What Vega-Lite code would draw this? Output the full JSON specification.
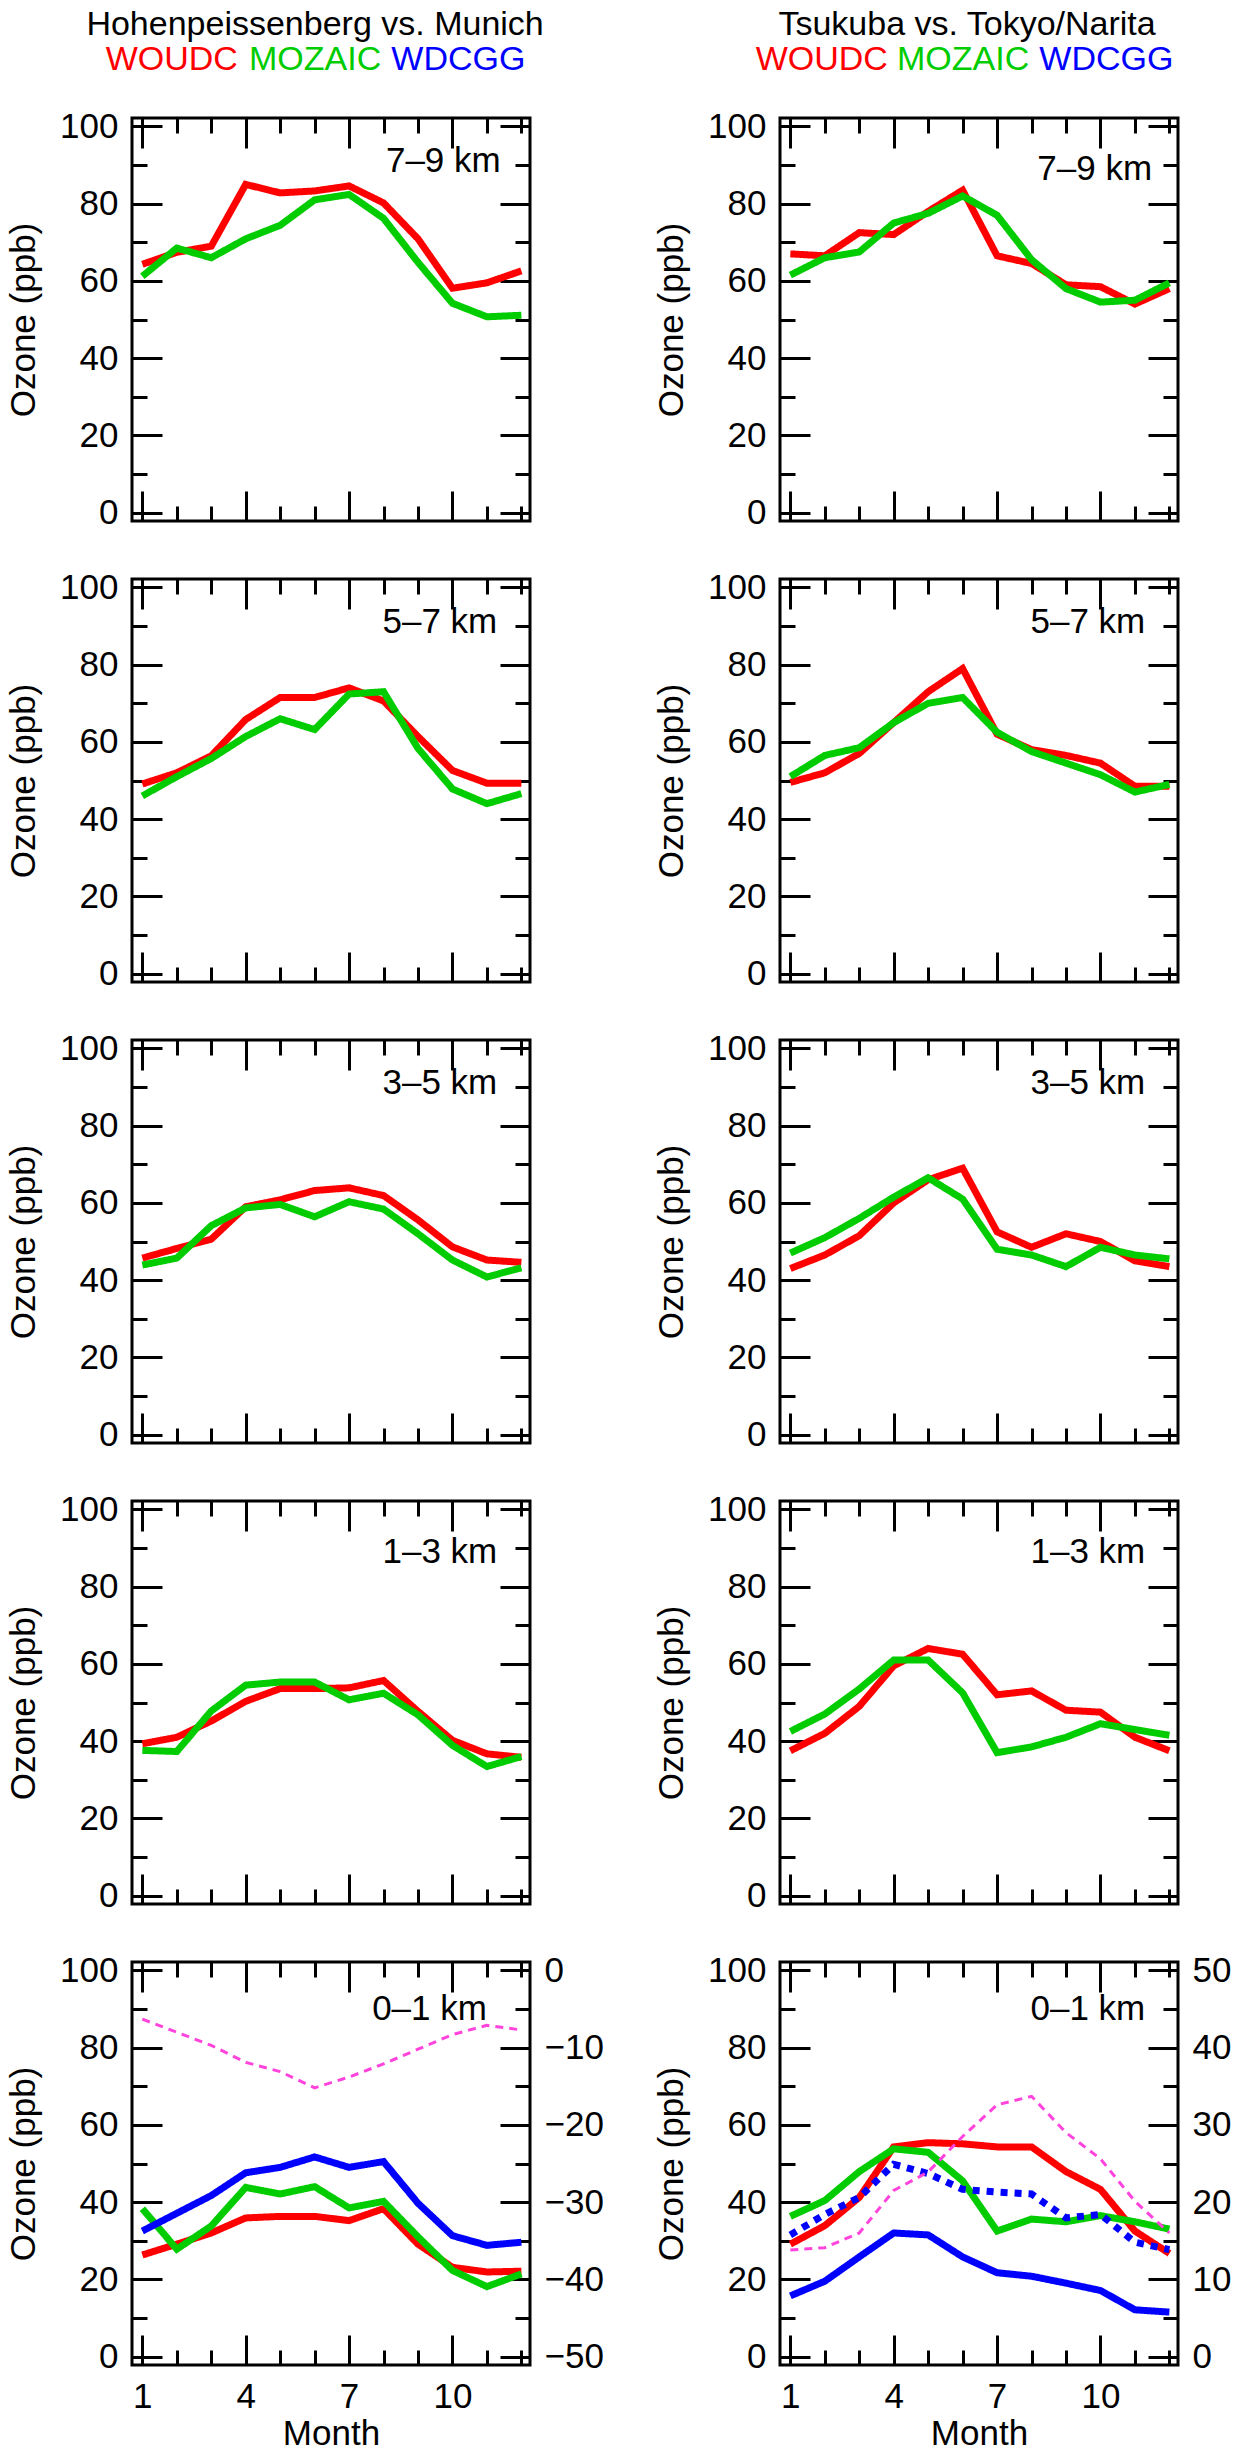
{
  "$schema": "https://vega.github.io/schema/vega-lite/v6.json",
  "background": "white",
  "config": {
    "view": {"stroke": "black", "strokeWidth": 3},
    "font": "Liberation Sans",
    "axis": {"domain": false, "grid": false, "labelFont": "Liberation Sans", "labelFontSize": 35, "labelColor": "black", "titleFont": "Liberation Sans", "titleFontSize": 35, "titleFontWeight": "normal", "titleColor": "black", "tickColor": "black", "tickWidth": 3, "labelPadding": 44},
    "text": {"font": "Liberation Sans", "fontSize": 35, "color": "black"}
  },
  "datasets": {
    "h": [
      {"c": "L", "t": "Hohenpeissenberg vs. Munich", "x": 0.46, "y": 20, "col": "black"},
      {"c": "L", "t": "WOUDC", "x": 0.10, "y": 55, "col": "#ff0000"},
      {"c": "L", "t": "MOZAIC", "x": 0.46, "y": 55, "col": "#00cc00"},
      {"c": "L", "t": "WDCGG", "x": 0.82, "y": 55, "col": "#0000ff"},
      {"c": "R", "t": "Tsukuba vs. Tokyo/Narita", "x": 0.47, "y": 20, "col": "black"},
      {"c": "R", "t": "WOUDC", "x": 0.105, "y": 55, "col": "#ff0000"},
      {"c": "R", "t": "MOZAIC", "x": 0.46, "y": 55, "col": "#00cc00"},
      {"c": "R", "t": "WDCGG", "x": 0.82, "y": 55, "col": "#0000ff"}
    ],
    "d": [
      {"p": "L1", "m": 1, "WOUDC": 64.3, "MOZAIC": 61.2}, {"p": "L1", "m": 2, "WOUDC": 67.4, "MOZAIC": 68.5}, {"p": "L1", "m": 3, "WOUDC": 69, "MOZAIC": 66}, {"p": "L1", "m": 4, "WOUDC": 85, "MOZAIC": 70.9}, {"p": "L1", "m": 5, "WOUDC": 82.8, "MOZAIC": 74.4}, {"p": "L1", "m": 6, "WOUDC": 83.3, "MOZAIC": 81}, {"p": "L1", "m": 7, "WOUDC": 84.6, "MOZAIC": 82.4}, {"p": "L1", "m": 8, "WOUDC": 80.2, "MOZAIC": 76.2}, {"p": "L1", "m": 9, "WOUDC": 70.9, "MOZAIC": 64.8}, {"p": "L1", "m": 10, "WOUDC": 58.1, "MOZAIC": 54.2}, {"p": "L1", "m": 11, "WOUDC": 59.5, "MOZAIC": 50.7}, {"p": "L1", "m": 12, "WOUDC": 62.6, "MOZAIC": 51.1},
      {"p": "R1", "m": 1, "WOUDC": 67, "MOZAIC": 61.5}, {"p": "R1", "m": 2, "WOUDC": 66.5, "MOZAIC": 66}, {"p": "R1", "m": 3, "WOUDC": 72.5, "MOZAIC": 67.5}, {"p": "R1", "m": 4, "WOUDC": 72, "MOZAIC": 75}, {"p": "R1", "m": 5, "WOUDC": 78, "MOZAIC": 77.5}, {"p": "R1", "m": 6, "WOUDC": 83.5, "MOZAIC": 82}, {"p": "R1", "m": 7, "WOUDC": 66.5, "MOZAIC": 77}, {"p": "R1", "m": 8, "WOUDC": 64.5, "MOZAIC": 65.5}, {"p": "R1", "m": 9, "WOUDC": 59, "MOZAIC": 58}, {"p": "R1", "m": 10, "WOUDC": 58.5, "MOZAIC": 54.5}, {"p": "R1", "m": 11, "WOUDC": 54, "MOZAIC": 55}, {"p": "R1", "m": 12, "WOUDC": 58, "MOZAIC": 59.5},
      {"p": "L2", "m": 1, "WOUDC": 49.1, "MOZAIC": 46}, {"p": "L2", "m": 2, "WOUDC": 52, "MOZAIC": 51}, {"p": "L2", "m": 3, "WOUDC": 56.4, "MOZAIC": 55.7}, {"p": "L2", "m": 4, "WOUDC": 65.8, "MOZAIC": 61.4}, {"p": "L2", "m": 5, "WOUDC": 71.5, "MOZAIC": 66}, {"p": "L2", "m": 6, "WOUDC": 71.5, "MOZAIC": 63.2}, {"p": "L2", "m": 7, "WOUDC": 74, "MOZAIC": 72.4}, {"p": "L2", "m": 8, "WOUDC": 70.6, "MOZAIC": 73}, {"p": "L2", "m": 9, "WOUDC": 61.4, "MOZAIC": 58.3}, {"p": "L2", "m": 10, "WOUDC": 52.6, "MOZAIC": 47.8}, {"p": "L2", "m": 11, "WOUDC": 49.3, "MOZAIC": 44}, {"p": "L2", "m": 12, "WOUDC": 49.3, "MOZAIC": 46.6},
      {"p": "R2", "m": 1, "WOUDC": 49.5, "MOZAIC": 51}, {"p": "R2", "m": 2, "WOUDC": 52, "MOZAIC": 56.5}, {"p": "R2", "m": 3, "WOUDC": 57, "MOZAIC": 58.5}, {"p": "R2", "m": 4, "WOUDC": 65, "MOZAIC": 65}, {"p": "R2", "m": 5, "WOUDC": 73, "MOZAIC": 70}, {"p": "R2", "m": 6, "WOUDC": 79, "MOZAIC": 71.5}, {"p": "R2", "m": 7, "WOUDC": 62, "MOZAIC": 62.5}, {"p": "R2", "m": 8, "WOUDC": 58, "MOZAIC": 57.5}, {"p": "R2", "m": 9, "WOUDC": 56.5, "MOZAIC": 54.5}, {"p": "R2", "m": 10, "WOUDC": 54.5, "MOZAIC": 51.5}, {"p": "R2", "m": 11, "WOUDC": 48.5, "MOZAIC": 47}, {"p": "R2", "m": 12, "WOUDC": 48.5, "MOZAIC": 49},
      {"p": "L3", "m": 1, "WOUDC": 45.7, "MOZAIC": 43.9}, {"p": "L3", "m": 2, "WOUDC": 48.2, "MOZAIC": 45.7}, {"p": "L3", "m": 3, "WOUDC": 50.6, "MOZAIC": 54.1}, {"p": "L3", "m": 4, "WOUDC": 59, "MOZAIC": 58.7}, {"p": "L3", "m": 5, "WOUDC": 60.8, "MOZAIC": 59.6}, {"p": "L3", "m": 6, "WOUDC": 63.2, "MOZAIC": 56.4}, {"p": "L3", "m": 7, "WOUDC": 63.9, "MOZAIC": 60.3}, {"p": "L3", "m": 8, "WOUDC": 61.9, "MOZAIC": 58.4}, {"p": "L3", "m": 9, "WOUDC": 55.6, "MOZAIC": 52}, {"p": "L3", "m": 10, "WOUDC": 48.6, "MOZAIC": 45.2}, {"p": "L3", "m": 11, "WOUDC": 45.2, "MOZAIC": 40.8}, {"p": "L3", "m": 12, "WOUDC": 44.6, "MOZAIC": 43.2},
      {"p": "R3", "m": 1, "WOUDC": 43, "MOZAIC": 47}, {"p": "R3", "m": 2, "WOUDC": 46.5, "MOZAIC": 51}, {"p": "R3", "m": 3, "WOUDC": 51.5, "MOZAIC": 56}, {"p": "R3", "m": 4, "WOUDC": 60, "MOZAIC": 61.5}, {"p": "R3", "m": 5, "WOUDC": 66, "MOZAIC": 66.5}, {"p": "R3", "m": 6, "WOUDC": 69, "MOZAIC": 61}, {"p": "R3", "m": 7, "WOUDC": 52.5, "MOZAIC": 48}, {"p": "R3", "m": 8, "WOUDC": 48.5, "MOZAIC": 46.5}, {"p": "R3", "m": 9, "WOUDC": 52, "MOZAIC": 43.5}, {"p": "R3", "m": 10, "WOUDC": 50, "MOZAIC": 48.5}, {"p": "R3", "m": 11, "WOUDC": 45, "MOZAIC": 46.5}, {"p": "R3", "m": 12, "WOUDC": 43.5, "MOZAIC": 45.5},
      {"p": "L4", "m": 1, "WOUDC": 39.3, "MOZAIC": 37.6}, {"p": "L4", "m": 2, "WOUDC": 41, "MOZAIC": 37.3}, {"p": "L4", "m": 3, "WOUDC": 45.2, "MOZAIC": 47.8}, {"p": "L4", "m": 4, "WOUDC": 50.3, "MOZAIC": 54.5}, {"p": "L4", "m": 5, "WOUDC": 53.6, "MOZAIC": 55.3}, {"p": "L4", "m": 6, "WOUDC": 53.6, "MOZAIC": 55.3}, {"p": "L4", "m": 7, "WOUDC": 53.8, "MOZAIC": 50.7}, {"p": "L4", "m": 8, "WOUDC": 55.7, "MOZAIC": 52.4}, {"p": "L4", "m": 9, "WOUDC": 47.7, "MOZAIC": 46.8}, {"p": "L4", "m": 10, "WOUDC": 40.2, "MOZAIC": 38.9}, {"p": "L4", "m": 11, "WOUDC": 36.7, "MOZAIC": 33.4}, {"p": "L4", "m": 12, "WOUDC": 35.8, "MOZAIC": 36},
      {"p": "R4", "m": 1, "WOUDC": 37.5, "MOZAIC": 42.5}, {"p": "R4", "m": 2, "WOUDC": 42, "MOZAIC": 47}, {"p": "R4", "m": 3, "WOUDC": 49, "MOZAIC": 53.5}, {"p": "R4", "m": 4, "WOUDC": 59.5, "MOZAIC": 61}, {"p": "R4", "m": 5, "WOUDC": 64, "MOZAIC": 61}, {"p": "R4", "m": 6, "WOUDC": 62.5, "MOZAIC": 52.5}, {"p": "R4", "m": 7, "WOUDC": 52, "MOZAIC": 37}, {"p": "R4", "m": 8, "WOUDC": 53, "MOZAIC": 38.5}, {"p": "R4", "m": 9, "WOUDC": 48, "MOZAIC": 41}, {"p": "R4", "m": 10, "WOUDC": 47.5, "MOZAIC": 44.5}, {"p": "R4", "m": 11, "WOUDC": 41, "MOZAIC": 43}, {"p": "R4", "m": 12, "WOUDC": 37.5, "MOZAIC": 41.5},
      {"p": "L5", "m": 1, "WOUDC": 26.3, "MOZAIC": 38.3, "WDCGG": 32.5, "diff": -6.3}, {"p": "L5", "m": 2, "WOUDC": 29.1, "MOZAIC": 27.8, "WDCGG": 37.1, "diff": -8}, {"p": "L5", "m": 3, "WOUDC": 32, "MOZAIC": 33.8, "WDCGG": 41.7, "diff": -9.7}, {"p": "L5", "m": 4, "WOUDC": 35.9, "MOZAIC": 43.8, "WDCGG": 47.6, "diff": -11.9}, {"p": "L5", "m": 5, "WOUDC": 36.3, "MOZAIC": 42.1, "WDCGG": 49, "diff": -13.1}, {"p": "L5", "m": 6, "WOUDC": 36.3, "MOZAIC": 44, "WDCGG": 51.7, "diff": -15.2}, {"p": "L5", "m": 7, "WOUDC": 35.2, "MOZAIC": 38.5, "WDCGG": 49, "diff": -13.8}, {"p": "L5", "m": 8, "WOUDC": 38.3, "MOZAIC": 40.2, "WDCGG": 50.5, "diff": -12.1}, {"p": "L5", "m": 9, "WOUDC": 29.1, "MOZAIC": 31, "WDCGG": 39.7, "diff": -10.2}, {"p": "L5", "m": 10, "WOUDC": 23.1, "MOZAIC": 22.3, "WDCGG": 31.3, "diff": -8.3}, {"p": "L5", "m": 11, "WOUDC": 21.9, "MOZAIC": 18.1, "WDCGG": 28.8, "diff": -7.1}, {"p": "L5", "m": 12, "WOUDC": 22.1, "MOZAIC": 21.4, "WDCGG": 29.6, "diff": -7.7},
      {"p": "R5", "m": 1, "WOUDC": 29.1, "MOZAIC": 36.3, "WDCGG": 15.7, "WDCGG_b": 31.5, "diff": 13.8}, {"p": "R5", "m": 2, "WOUDC": 33.9, "MOZAIC": 40.4, "WDCGG": 19.5, "WDCGG_b": 36.8, "diff": 14.1}, {"p": "R5", "m": 3, "WOUDC": 41.2, "MOZAIC": 47.9, "WDCGG": 25.8, "WDCGG_b": 41.2, "diff": 16}, {"p": "R5", "m": 4, "WOUDC": 54.3, "MOZAIC": 53.8, "WDCGG": 32, "WDCGG_b": 49.8, "diff": 21.5}, {"p": "R5", "m": 5, "WOUDC": 55.4, "MOZAIC": 52.9, "WDCGG": 31.5, "WDCGG_b": 47.4, "diff": 23.9}, {"p": "R5", "m": 6, "WOUDC": 55.1, "MOZAIC": 45.5, "WDCGG": 25.8, "WDCGG_b": 43.3, "diff": 28.5}, {"p": "R5", "m": 7, "WOUDC": 54.3, "MOZAIC": 32.5, "WDCGG": 21.7, "WDCGG_b": 42.6, "diff": 32.6}, {"p": "R5", "m": 8, "WOUDC": 54.3, "MOZAIC": 35.6, "WDCGG": 20.8, "WDCGG_b": 42.1, "diff": 33.7}, {"p": "R5", "m": 9, "WOUDC": 47.9, "MOZAIC": 34.9, "WDCGG": 19, "WDCGG_b": 35.9, "diff": 29}, {"p": "R5", "m": 10, "WOUDC": 43.3, "MOZAIC": 36.5, "WDCGG": 17.1, "WDCGG_b": 36.8, "diff": 25.6}, {"p": "R5", "m": 11, "WOUDC": 32.5, "MOZAIC": 34.9, "WDCGG": 12.1, "WDCGG_b": 29.6, "diff": 20.1}, {"p": "R5", "m": 12, "WOUDC": 26.7, "MOZAIC": 33, "WDCGG": 11.5, "WDCGG_b": 27.7, "diff": 16}
    ]
  },
  "spacing": 48,
  "hconcat": [
    {
      "bounds": "flush",
      "spacing": 58,
      "vconcat": [
        {"width": 398, "height": 55, "view": {"stroke": null}, "data": {"name": "h"}, "transform": [{"filter": "datum.c === 'L'"}], "mark": {"type": "text", "fontSize": 34, "baseline": "middle"}, "encoding": {"x": {"field": "x", "type": "quantitative", "scale": {"domain": [0, 1]}, "axis": null}, "y": {"field": "y", "type": "quantitative", "scale": {"domain": [55, 0]}, "axis": null}, "text": {"field": "t"}, "color": {"field": "col", "type": "nominal", "scale": null}}},
        {"width": 398, "height": 403, "data": {"name": "d"}, "transform": [{"filter": "datum.p === 'L1'"}], "resolve": {"axis": {"x": "independent", "y": "independent"}}, "layer": [
          {"transform": [{"fold": ["WOUDC", "MOZAIC", "WDCGG", "WDCGG_b"], "as": ["s", "v"]}, {"filter": "isValid(datum.v)"}], "mark": {"type": "line", "strokeWidth": 7}, "encoding": {"x": {"field": "m", "type": "quantitative", "scale": {"domain": [0.7, 12.25], "nice": false, "zero": false}, "axis": {"orient": "bottom", "values": [1, 4, 7, 10], "tickSize": -30, "labels": false, "title": null}}, "y": {"field": "v", "type": "quantitative", "scale": {"domain": [-2.2, 102.2], "nice": false, "zero": false}, "axis": {"orient": "left", "values": [0, 20, 40, 60, 80, 100], "tickSize": -30, "title": "Ozone (ppb)", "titlePadding": 18}}, "color": {"field": "s", "type": "nominal", "scale": {"domain": ["WOUDC", "MOZAIC", "WDCGG", "WDCGG_b"], "range": ["#ff0000", "#00cc00", "#0000ff", "#0000ff"]}, "legend": null}, "strokeDash": {"field": "s", "type": "nominal", "scale": {"domain": ["WOUDC", "MOZAIC", "WDCGG", "WDCGG_b"], "range": [[1, 0], [1, 0], [1, 0], [7, 7]]}, "legend": null}}},
          {"mark": {"type": "point", "opacity": 0}, "encoding": {"x": {"field": "m", "type": "quantitative", "axis": {"orient": "bottom", "values": [1, 2, 3, 4, 5, 6, 7, 8, 9, 10, 11, 12], "tickSize": -15, "labels": false, "title": null}}, "y": {"field": "m", "type": "quantitative", "axis": {"orient": "left", "values": [10, 30, 50, 70, 90], "tickSize": -15, "labels": false, "title": null}}}},
          {"mark": {"type": "point", "opacity": 0}, "encoding": {"x": {"field": "m", "type": "quantitative", "axis": {"orient": "top", "values": [1, 4, 7, 10], "tickSize": -30, "labels": false, "title": null}}, "y": {"field": "m", "type": "quantitative", "axis": {"orient": "right", "values": [0, 20, 40, 60, 80, 100], "tickSize": -30, "labels": false, "title": null}}}},
          {"mark": {"type": "point", "opacity": 0}, "encoding": {"x": {"field": "m", "type": "quantitative", "axis": {"orient": "top", "values": [1, 2, 3, 4, 5, 6, 7, 8, 9, 10, 11, 12], "tickSize": -15, "labels": false, "title": null}}, "y": {"field": "m", "type": "quantitative", "axis": {"orient": "right", "values": [10, 30, 50, 70, 90], "tickSize": -15, "labels": false, "title": null}}}},
          {"data": {"values": [{"t": "7–9 km"}]}, "mark": {"type": "text", "align": "right", "baseline": "middle"}, "encoding": {"x": {"datum": 11.4, "type": "quantitative", "axis": null}, "y": {"datum": 91, "type": "quantitative", "axis": null}, "text": {"field": "t"}}}
        ]},
        {"width": 398, "height": 403, "data": {"name": "d"}, "transform": [{"filter": "datum.p === 'L2'"}], "resolve": {"axis": {"x": "independent", "y": "independent"}}, "layer": [
          {"transform": [{"fold": ["WOUDC", "MOZAIC", "WDCGG", "WDCGG_b"], "as": ["s", "v"]}, {"filter": "isValid(datum.v)"}], "mark": {"type": "line", "strokeWidth": 7}, "encoding": {"x": {"field": "m", "type": "quantitative", "scale": {"domain": [0.7, 12.25], "nice": false, "zero": false}, "axis": {"orient": "bottom", "values": [1, 4, 7, 10], "tickSize": -30, "labels": false, "title": null}}, "y": {"field": "v", "type": "quantitative", "scale": {"domain": [-2.2, 102.2], "nice": false, "zero": false}, "axis": {"orient": "left", "values": [0, 20, 40, 60, 80, 100], "tickSize": -30, "title": "Ozone (ppb)", "titlePadding": 18}}, "color": {"field": "s", "type": "nominal", "scale": {"domain": ["WOUDC", "MOZAIC", "WDCGG", "WDCGG_b"], "range": ["#ff0000", "#00cc00", "#0000ff", "#0000ff"]}, "legend": null}, "strokeDash": {"field": "s", "type": "nominal", "scale": {"domain": ["WOUDC", "MOZAIC", "WDCGG", "WDCGG_b"], "range": [[1, 0], [1, 0], [1, 0], [7, 7]]}, "legend": null}}},
          {"mark": {"type": "point", "opacity": 0}, "encoding": {"x": {"field": "m", "type": "quantitative", "axis": {"orient": "bottom", "values": [1, 2, 3, 4, 5, 6, 7, 8, 9, 10, 11, 12], "tickSize": -15, "labels": false, "title": null}}, "y": {"field": "m", "type": "quantitative", "axis": {"orient": "left", "values": [10, 30, 50, 70, 90], "tickSize": -15, "labels": false, "title": null}}}},
          {"mark": {"type": "point", "opacity": 0}, "encoding": {"x": {"field": "m", "type": "quantitative", "axis": {"orient": "top", "values": [1, 4, 7, 10], "tickSize": -30, "labels": false, "title": null}}, "y": {"field": "m", "type": "quantitative", "axis": {"orient": "right", "values": [0, 20, 40, 60, 80, 100], "tickSize": -30, "labels": false, "title": null}}}},
          {"mark": {"type": "point", "opacity": 0}, "encoding": {"x": {"field": "m", "type": "quantitative", "axis": {"orient": "top", "values": [1, 2, 3, 4, 5, 6, 7, 8, 9, 10, 11, 12], "tickSize": -15, "labels": false, "title": null}}, "y": {"field": "m", "type": "quantitative", "axis": {"orient": "right", "values": [10, 30, 50, 70, 90], "tickSize": -15, "labels": false, "title": null}}}},
          {"data": {"values": [{"t": "5–7 km"}]}, "mark": {"type": "text", "align": "right", "baseline": "middle"}, "encoding": {"x": {"datum": 11.3, "type": "quantitative", "axis": null}, "y": {"datum": 91, "type": "quantitative", "axis": null}, "text": {"field": "t"}}}
        ]},
        {"width": 398, "height": 403, "data": {"name": "d"}, "transform": [{"filter": "datum.p === 'L3'"}], "resolve": {"axis": {"x": "independent", "y": "independent"}}, "layer": [
          {"transform": [{"fold": ["WOUDC", "MOZAIC", "WDCGG", "WDCGG_b"], "as": ["s", "v"]}, {"filter": "isValid(datum.v)"}], "mark": {"type": "line", "strokeWidth": 7}, "encoding": {"x": {"field": "m", "type": "quantitative", "scale": {"domain": [0.7, 12.25], "nice": false, "zero": false}, "axis": {"orient": "bottom", "values": [1, 4, 7, 10], "tickSize": -30, "labels": false, "title": null}}, "y": {"field": "v", "type": "quantitative", "scale": {"domain": [-2.2, 102.2], "nice": false, "zero": false}, "axis": {"orient": "left", "values": [0, 20, 40, 60, 80, 100], "tickSize": -30, "title": "Ozone (ppb)", "titlePadding": 18}}, "color": {"field": "s", "type": "nominal", "scale": {"domain": ["WOUDC", "MOZAIC", "WDCGG", "WDCGG_b"], "range": ["#ff0000", "#00cc00", "#0000ff", "#0000ff"]}, "legend": null}, "strokeDash": {"field": "s", "type": "nominal", "scale": {"domain": ["WOUDC", "MOZAIC", "WDCGG", "WDCGG_b"], "range": [[1, 0], [1, 0], [1, 0], [7, 7]]}, "legend": null}}},
          {"mark": {"type": "point", "opacity": 0}, "encoding": {"x": {"field": "m", "type": "quantitative", "axis": {"orient": "bottom", "values": [1, 2, 3, 4, 5, 6, 7, 8, 9, 10, 11, 12], "tickSize": -15, "labels": false, "title": null}}, "y": {"field": "m", "type": "quantitative", "axis": {"orient": "left", "values": [10, 30, 50, 70, 90], "tickSize": -15, "labels": false, "title": null}}}},
          {"mark": {"type": "point", "opacity": 0}, "encoding": {"x": {"field": "m", "type": "quantitative", "axis": {"orient": "top", "values": [1, 4, 7, 10], "tickSize": -30, "labels": false, "title": null}}, "y": {"field": "m", "type": "quantitative", "axis": {"orient": "right", "values": [0, 20, 40, 60, 80, 100], "tickSize": -30, "labels": false, "title": null}}}},
          {"mark": {"type": "point", "opacity": 0}, "encoding": {"x": {"field": "m", "type": "quantitative", "axis": {"orient": "top", "values": [1, 2, 3, 4, 5, 6, 7, 8, 9, 10, 11, 12], "tickSize": -15, "labels": false, "title": null}}, "y": {"field": "m", "type": "quantitative", "axis": {"orient": "right", "values": [10, 30, 50, 70, 90], "tickSize": -15, "labels": false, "title": null}}}},
          {"data": {"values": [{"t": "3–5 km"}]}, "mark": {"type": "text", "align": "right", "baseline": "middle"}, "encoding": {"x": {"datum": 11.3, "type": "quantitative", "axis": null}, "y": {"datum": 91, "type": "quantitative", "axis": null}, "text": {"field": "t"}}}
        ]},
        {"width": 398, "height": 403, "data": {"name": "d"}, "transform": [{"filter": "datum.p === 'L4'"}], "resolve": {"axis": {"x": "independent", "y": "independent"}}, "layer": [
          {"transform": [{"fold": ["WOUDC", "MOZAIC", "WDCGG", "WDCGG_b"], "as": ["s", "v"]}, {"filter": "isValid(datum.v)"}], "mark": {"type": "line", "strokeWidth": 7}, "encoding": {"x": {"field": "m", "type": "quantitative", "scale": {"domain": [0.7, 12.25], "nice": false, "zero": false}, "axis": {"orient": "bottom", "values": [1, 4, 7, 10], "tickSize": -30, "labels": false, "title": null}}, "y": {"field": "v", "type": "quantitative", "scale": {"domain": [-2.2, 102.2], "nice": false, "zero": false}, "axis": {"orient": "left", "values": [0, 20, 40, 60, 80, 100], "tickSize": -30, "title": "Ozone (ppb)", "titlePadding": 18}}, "color": {"field": "s", "type": "nominal", "scale": {"domain": ["WOUDC", "MOZAIC", "WDCGG", "WDCGG_b"], "range": ["#ff0000", "#00cc00", "#0000ff", "#0000ff"]}, "legend": null}, "strokeDash": {"field": "s", "type": "nominal", "scale": {"domain": ["WOUDC", "MOZAIC", "WDCGG", "WDCGG_b"], "range": [[1, 0], [1, 0], [1, 0], [7, 7]]}, "legend": null}}},
          {"mark": {"type": "point", "opacity": 0}, "encoding": {"x": {"field": "m", "type": "quantitative", "axis": {"orient": "bottom", "values": [1, 2, 3, 4, 5, 6, 7, 8, 9, 10, 11, 12], "tickSize": -15, "labels": false, "title": null}}, "y": {"field": "m", "type": "quantitative", "axis": {"orient": "left", "values": [10, 30, 50, 70, 90], "tickSize": -15, "labels": false, "title": null}}}},
          {"mark": {"type": "point", "opacity": 0}, "encoding": {"x": {"field": "m", "type": "quantitative", "axis": {"orient": "top", "values": [1, 4, 7, 10], "tickSize": -30, "labels": false, "title": null}}, "y": {"field": "m", "type": "quantitative", "axis": {"orient": "right", "values": [0, 20, 40, 60, 80, 100], "tickSize": -30, "labels": false, "title": null}}}},
          {"mark": {"type": "point", "opacity": 0}, "encoding": {"x": {"field": "m", "type": "quantitative", "axis": {"orient": "top", "values": [1, 2, 3, 4, 5, 6, 7, 8, 9, 10, 11, 12], "tickSize": -15, "labels": false, "title": null}}, "y": {"field": "m", "type": "quantitative", "axis": {"orient": "right", "values": [10, 30, 50, 70, 90], "tickSize": -15, "labels": false, "title": null}}}},
          {"data": {"values": [{"t": "1–3 km"}]}, "mark": {"type": "text", "align": "right", "baseline": "middle"}, "encoding": {"x": {"datum": 11.3, "type": "quantitative", "axis": null}, "y": {"datum": 89, "type": "quantitative", "axis": null}, "text": {"field": "t"}}}
        ]},
        {"width": 398, "height": 403, "data": {"name": "d"}, "transform": [{"filter": "datum.p === 'L5'"}], "resolve": {"axis": {"x": "independent", "y": "independent"}, "scale": {"y": "independent"}}, "layer": [
          {"transform": [{"fold": ["WOUDC", "MOZAIC", "WDCGG", "WDCGG_b"], "as": ["s", "v"]}, {"filter": "isValid(datum.v)"}], "mark": {"type": "line", "strokeWidth": 7}, "encoding": {"x": {"field": "m", "type": "quantitative", "scale": {"domain": [0.7, 12.25], "nice": false, "zero": false}, "axis": {"orient": "bottom", "values": [1, 4, 7, 10], "tickSize": -30, "title": "Month", "titlePadding": 2, "labelPadding": 44}}, "y": {"field": "v", "type": "quantitative", "scale": {"domain": [-2.2, 102.2], "nice": false, "zero": false}, "axis": {"orient": "left", "values": [0, 20, 40, 60, 80, 100], "tickSize": -30, "title": "Ozone (ppb)", "titlePadding": 18}}, "color": {"field": "s", "type": "nominal", "scale": {"domain": ["WOUDC", "MOZAIC", "WDCGG", "WDCGG_b"], "range": ["#ff0000", "#00cc00", "#0000ff", "#0000ff"]}, "legend": null}, "strokeDash": {"field": "s", "type": "nominal", "scale": {"domain": ["WOUDC", "MOZAIC", "WDCGG", "WDCGG_b"], "range": [[1, 0], [1, 0], [1, 0], [7, 7]]}, "legend": null}}},
          {"mark": {"type": "point", "opacity": 0}, "encoding": {"x": {"field": "m", "type": "quantitative", "axis": {"orient": "bottom", "values": [1, 2, 3, 4, 5, 6, 7, 8, 9, 10, 11, 12], "tickSize": -15, "labels": false, "title": null}}, "y": {"field": "m", "type": "quantitative", "scale": {"domain": [-2.2, 102.2], "nice": false, "zero": false}, "axis": {"orient": "left", "values": [10, 30, 50, 70, 90], "tickSize": -15, "labels": false, "title": null}}}},
          {"mark": {"type": "point", "opacity": 0}, "encoding": {"x": {"field": "m", "type": "quantitative", "axis": {"orient": "top", "values": [1, 4, 7, 10], "tickSize": -30, "labels": false, "title": null}}, "y": {"field": "m", "type": "quantitative", "scale": {"domain": [-2.2, 102.2], "nice": false, "zero": false}, "axis": {"orient": "right", "values": [10, 30, 50, 70, 90], "tickSize": -15, "labels": false, "title": null}}}},
          {"mark": {"type": "point", "opacity": 0}, "encoding": {"x": {"field": "m", "type": "quantitative", "axis": {"orient": "top", "values": [1, 2, 3, 4, 5, 6, 7, 8, 9, 10, 11, 12], "tickSize": -15, "labels": false, "title": null}}, "y": {"field": "m", "type": "quantitative", "scale": {"domain": [-2.2, 102.2], "nice": false, "zero": false}, "axis": null}}},
          {"mark": {"type": "line", "strokeWidth": 3, "color": "#ff44dd", "strokeDash": [8, 6]}, "encoding": {"x": {"field": "m", "type": "quantitative", "axis": null}, "y": {"field": "diff", "type": "quantitative", "scale": {"domain": [-51.1, 1.1], "nice": false, "zero": false}, "axis": {"orient": "right", "values": [-50, -40, -30, -20, -10, 0], "tickSize": -30, "title": null, "labelPadding": 44}}}},
          {"data": {"values": [{"t": "0–1 km"}]}, "mark": {"type": "text", "align": "right", "baseline": "middle"}, "encoding": {"x": {"datum": 11.0, "type": "quantitative", "axis": null}, "y": {"datum": 90, "type": "quantitative", "scale": {"domain": [-2.2, 102.2], "nice": false, "zero": false}, "axis": null}, "text": {"field": "t"}}}
        ]}
      ]
    },
    {
      "bounds": "flush",
      "spacing": 58,
      "vconcat": [
        {"width": 398, "height": 55, "view": {"stroke": null}, "data": {"name": "h"}, "transform": [{"filter": "datum.c === 'R'"}], "mark": {"type": "text", "fontSize": 34, "baseline": "middle"}, "encoding": {"x": {"field": "x", "type": "quantitative", "scale": {"domain": [0, 1]}, "axis": null}, "y": {"field": "y", "type": "quantitative", "scale": {"domain": [55, 0]}, "axis": null}, "text": {"field": "t"}, "color": {"field": "col", "type": "nominal", "scale": null}}},
        {"width": 398, "height": 403, "data": {"name": "d"}, "transform": [{"filter": "datum.p === 'R1'"}], "resolve": {"axis": {"x": "independent", "y": "independent"}}, "layer": [
          {"transform": [{"fold": ["WOUDC", "MOZAIC", "WDCGG", "WDCGG_b"], "as": ["s", "v"]}, {"filter": "isValid(datum.v)"}], "mark": {"type": "line", "strokeWidth": 7}, "encoding": {"x": {"field": "m", "type": "quantitative", "scale": {"domain": [0.7, 12.25], "nice": false, "zero": false}, "axis": {"orient": "bottom", "values": [1, 4, 7, 10], "tickSize": -30, "labels": false, "title": null}}, "y": {"field": "v", "type": "quantitative", "scale": {"domain": [-2.2, 102.2], "nice": false, "zero": false}, "axis": {"orient": "left", "values": [0, 20, 40, 60, 80, 100], "tickSize": -30, "title": "Ozone (ppb)", "titlePadding": 18}}, "color": {"field": "s", "type": "nominal", "scale": {"domain": ["WOUDC", "MOZAIC", "WDCGG", "WDCGG_b"], "range": ["#ff0000", "#00cc00", "#0000ff", "#0000ff"]}, "legend": null}, "strokeDash": {"field": "s", "type": "nominal", "scale": {"domain": ["WOUDC", "MOZAIC", "WDCGG", "WDCGG_b"], "range": [[1, 0], [1, 0], [1, 0], [7, 7]]}, "legend": null}}},
          {"mark": {"type": "point", "opacity": 0}, "encoding": {"x": {"field": "m", "type": "quantitative", "axis": {"orient": "bottom", "values": [1, 2, 3, 4, 5, 6, 7, 8, 9, 10, 11, 12], "tickSize": -15, "labels": false, "title": null}}, "y": {"field": "m", "type": "quantitative", "axis": {"orient": "left", "values": [10, 30, 50, 70, 90], "tickSize": -15, "labels": false, "title": null}}}},
          {"mark": {"type": "point", "opacity": 0}, "encoding": {"x": {"field": "m", "type": "quantitative", "axis": {"orient": "top", "values": [1, 4, 7, 10], "tickSize": -30, "labels": false, "title": null}}, "y": {"field": "m", "type": "quantitative", "axis": {"orient": "right", "values": [0, 20, 40, 60, 80, 100], "tickSize": -30, "labels": false, "title": null}}}},
          {"mark": {"type": "point", "opacity": 0}, "encoding": {"x": {"field": "m", "type": "quantitative", "axis": {"orient": "top", "values": [1, 2, 3, 4, 5, 6, 7, 8, 9, 10, 11, 12], "tickSize": -15, "labels": false, "title": null}}, "y": {"field": "m", "type": "quantitative", "axis": {"orient": "right", "values": [10, 30, 50, 70, 90], "tickSize": -15, "labels": false, "title": null}}}},
          {"data": {"values": [{"t": "7–9 km"}]}, "mark": {"type": "text", "align": "right", "baseline": "middle"}, "encoding": {"x": {"datum": 11.5, "type": "quantitative", "axis": null}, "y": {"datum": 89, "type": "quantitative", "axis": null}, "text": {"field": "t"}}}
        ]},
        {"width": 398, "height": 403, "data": {"name": "d"}, "transform": [{"filter": "datum.p === 'R2'"}], "resolve": {"axis": {"x": "independent", "y": "independent"}}, "layer": [
          {"transform": [{"fold": ["WOUDC", "MOZAIC", "WDCGG", "WDCGG_b"], "as": ["s", "v"]}, {"filter": "isValid(datum.v)"}], "mark": {"type": "line", "strokeWidth": 7}, "encoding": {"x": {"field": "m", "type": "quantitative", "scale": {"domain": [0.7, 12.25], "nice": false, "zero": false}, "axis": {"orient": "bottom", "values": [1, 4, 7, 10], "tickSize": -30, "labels": false, "title": null}}, "y": {"field": "v", "type": "quantitative", "scale": {"domain": [-2.2, 102.2], "nice": false, "zero": false}, "axis": {"orient": "left", "values": [0, 20, 40, 60, 80, 100], "tickSize": -30, "title": "Ozone (ppb)", "titlePadding": 18}}, "color": {"field": "s", "type": "nominal", "scale": {"domain": ["WOUDC", "MOZAIC", "WDCGG", "WDCGG_b"], "range": ["#ff0000", "#00cc00", "#0000ff", "#0000ff"]}, "legend": null}, "strokeDash": {"field": "s", "type": "nominal", "scale": {"domain": ["WOUDC", "MOZAIC", "WDCGG", "WDCGG_b"], "range": [[1, 0], [1, 0], [1, 0], [7, 7]]}, "legend": null}}},
          {"mark": {"type": "point", "opacity": 0}, "encoding": {"x": {"field": "m", "type": "quantitative", "axis": {"orient": "bottom", "values": [1, 2, 3, 4, 5, 6, 7, 8, 9, 10, 11, 12], "tickSize": -15, "labels": false, "title": null}}, "y": {"field": "m", "type": "quantitative", "axis": {"orient": "left", "values": [10, 30, 50, 70, 90], "tickSize": -15, "labels": false, "title": null}}}},
          {"mark": {"type": "point", "opacity": 0}, "encoding": {"x": {"field": "m", "type": "quantitative", "axis": {"orient": "top", "values": [1, 4, 7, 10], "tickSize": -30, "labels": false, "title": null}}, "y": {"field": "m", "type": "quantitative", "axis": {"orient": "right", "values": [0, 20, 40, 60, 80, 100], "tickSize": -30, "labels": false, "title": null}}}},
          {"mark": {"type": "point", "opacity": 0}, "encoding": {"x": {"field": "m", "type": "quantitative", "axis": {"orient": "top", "values": [1, 2, 3, 4, 5, 6, 7, 8, 9, 10, 11, 12], "tickSize": -15, "labels": false, "title": null}}, "y": {"field": "m", "type": "quantitative", "axis": {"orient": "right", "values": [10, 30, 50, 70, 90], "tickSize": -15, "labels": false, "title": null}}}},
          {"data": {"values": [{"t": "5–7 km"}]}, "mark": {"type": "text", "align": "right", "baseline": "middle"}, "encoding": {"x": {"datum": 11.3, "type": "quantitative", "axis": null}, "y": {"datum": 91, "type": "quantitative", "axis": null}, "text": {"field": "t"}}}
        ]},
        {"width": 398, "height": 403, "data": {"name": "d"}, "transform": [{"filter": "datum.p === 'R3'"}], "resolve": {"axis": {"x": "independent", "y": "independent"}}, "layer": [
          {"transform": [{"fold": ["WOUDC", "MOZAIC", "WDCGG", "WDCGG_b"], "as": ["s", "v"]}, {"filter": "isValid(datum.v)"}], "mark": {"type": "line", "strokeWidth": 7}, "encoding": {"x": {"field": "m", "type": "quantitative", "scale": {"domain": [0.7, 12.25], "nice": false, "zero": false}, "axis": {"orient": "bottom", "values": [1, 4, 7, 10], "tickSize": -30, "labels": false, "title": null}}, "y": {"field": "v", "type": "quantitative", "scale": {"domain": [-2.2, 102.2], "nice": false, "zero": false}, "axis": {"orient": "left", "values": [0, 20, 40, 60, 80, 100], "tickSize": -30, "title": "Ozone (ppb)", "titlePadding": 18}}, "color": {"field": "s", "type": "nominal", "scale": {"domain": ["WOUDC", "MOZAIC", "WDCGG", "WDCGG_b"], "range": ["#ff0000", "#00cc00", "#0000ff", "#0000ff"]}, "legend": null}, "strokeDash": {"field": "s", "type": "nominal", "scale": {"domain": ["WOUDC", "MOZAIC", "WDCGG", "WDCGG_b"], "range": [[1, 0], [1, 0], [1, 0], [7, 7]]}, "legend": null}}},
          {"mark": {"type": "point", "opacity": 0}, "encoding": {"x": {"field": "m", "type": "quantitative", "axis": {"orient": "bottom", "values": [1, 2, 3, 4, 5, 6, 7, 8, 9, 10, 11, 12], "tickSize": -15, "labels": false, "title": null}}, "y": {"field": "m", "type": "quantitative", "axis": {"orient": "left", "values": [10, 30, 50, 70, 90], "tickSize": -15, "labels": false, "title": null}}}},
          {"mark": {"type": "point", "opacity": 0}, "encoding": {"x": {"field": "m", "type": "quantitative", "axis": {"orient": "top", "values": [1, 4, 7, 10], "tickSize": -30, "labels": false, "title": null}}, "y": {"field": "m", "type": "quantitative", "axis": {"orient": "right", "values": [0, 20, 40, 60, 80, 100], "tickSize": -30, "labels": false, "title": null}}}},
          {"mark": {"type": "point", "opacity": 0}, "encoding": {"x": {"field": "m", "type": "quantitative", "axis": {"orient": "top", "values": [1, 2, 3, 4, 5, 6, 7, 8, 9, 10, 11, 12], "tickSize": -15, "labels": false, "title": null}}, "y": {"field": "m", "type": "quantitative", "axis": {"orient": "right", "values": [10, 30, 50, 70, 90], "tickSize": -15, "labels": false, "title": null}}}},
          {"data": {"values": [{"t": "3–5 km"}]}, "mark": {"type": "text", "align": "right", "baseline": "middle"}, "encoding": {"x": {"datum": 11.3, "type": "quantitative", "axis": null}, "y": {"datum": 91, "type": "quantitative", "axis": null}, "text": {"field": "t"}}}
        ]},
        {"width": 398, "height": 403, "data": {"name": "d"}, "transform": [{"filter": "datum.p === 'R4'"}], "resolve": {"axis": {"x": "independent", "y": "independent"}}, "layer": [
          {"transform": [{"fold": ["WOUDC", "MOZAIC", "WDCGG", "WDCGG_b"], "as": ["s", "v"]}, {"filter": "isValid(datum.v)"}], "mark": {"type": "line", "strokeWidth": 7}, "encoding": {"x": {"field": "m", "type": "quantitative", "scale": {"domain": [0.7, 12.25], "nice": false, "zero": false}, "axis": {"orient": "bottom", "values": [1, 4, 7, 10], "tickSize": -30, "labels": false, "title": null}}, "y": {"field": "v", "type": "quantitative", "scale": {"domain": [-2.2, 102.2], "nice": false, "zero": false}, "axis": {"orient": "left", "values": [0, 20, 40, 60, 80, 100], "tickSize": -30, "title": "Ozone (ppb)", "titlePadding": 18}}, "color": {"field": "s", "type": "nominal", "scale": {"domain": ["WOUDC", "MOZAIC", "WDCGG", "WDCGG_b"], "range": ["#ff0000", "#00cc00", "#0000ff", "#0000ff"]}, "legend": null}, "strokeDash": {"field": "s", "type": "nominal", "scale": {"domain": ["WOUDC", "MOZAIC", "WDCGG", "WDCGG_b"], "range": [[1, 0], [1, 0], [1, 0], [7, 7]]}, "legend": null}}},
          {"mark": {"type": "point", "opacity": 0}, "encoding": {"x": {"field": "m", "type": "quantitative", "axis": {"orient": "bottom", "values": [1, 2, 3, 4, 5, 6, 7, 8, 9, 10, 11, 12], "tickSize": -15, "labels": false, "title": null}}, "y": {"field": "m", "type": "quantitative", "axis": {"orient": "left", "values": [10, 30, 50, 70, 90], "tickSize": -15, "labels": false, "title": null}}}},
          {"mark": {"type": "point", "opacity": 0}, "encoding": {"x": {"field": "m", "type": "quantitative", "axis": {"orient": "top", "values": [1, 4, 7, 10], "tickSize": -30, "labels": false, "title": null}}, "y": {"field": "m", "type": "quantitative", "axis": {"orient": "right", "values": [0, 20, 40, 60, 80, 100], "tickSize": -30, "labels": false, "title": null}}}},
          {"mark": {"type": "point", "opacity": 0}, "encoding": {"x": {"field": "m", "type": "quantitative", "axis": {"orient": "top", "values": [1, 2, 3, 4, 5, 6, 7, 8, 9, 10, 11, 12], "tickSize": -15, "labels": false, "title": null}}, "y": {"field": "m", "type": "quantitative", "axis": {"orient": "right", "values": [10, 30, 50, 70, 90], "tickSize": -15, "labels": false, "title": null}}}},
          {"data": {"values": [{"t": "1–3 km"}]}, "mark": {"type": "text", "align": "right", "baseline": "middle"}, "encoding": {"x": {"datum": 11.3, "type": "quantitative", "axis": null}, "y": {"datum": 89, "type": "quantitative", "axis": null}, "text": {"field": "t"}}}
        ]},
        {"width": 398, "height": 403, "data": {"name": "d"}, "transform": [{"filter": "datum.p === 'R5'"}], "resolve": {"axis": {"x": "independent", "y": "independent"}, "scale": {"y": "independent"}}, "layer": [
          {"transform": [{"fold": ["WOUDC", "MOZAIC", "WDCGG", "WDCGG_b"], "as": ["s", "v"]}, {"filter": "isValid(datum.v)"}], "mark": {"type": "line", "strokeWidth": 7}, "encoding": {"x": {"field": "m", "type": "quantitative", "scale": {"domain": [0.7, 12.25], "nice": false, "zero": false}, "axis": {"orient": "bottom", "values": [1, 4, 7, 10], "tickSize": -30, "title": "Month", "titlePadding": 2, "labelPadding": 44}}, "y": {"field": "v", "type": "quantitative", "scale": {"domain": [-2.2, 102.2], "nice": false, "zero": false}, "axis": {"orient": "left", "values": [0, 20, 40, 60, 80, 100], "tickSize": -30, "title": "Ozone (ppb)", "titlePadding": 18}}, "color": {"field": "s", "type": "nominal", "scale": {"domain": ["WOUDC", "MOZAIC", "WDCGG", "WDCGG_b"], "range": ["#ff0000", "#00cc00", "#0000ff", "#0000ff"]}, "legend": null}, "strokeDash": {"field": "s", "type": "nominal", "scale": {"domain": ["WOUDC", "MOZAIC", "WDCGG", "WDCGG_b"], "range": [[1, 0], [1, 0], [1, 0], [7, 7]]}, "legend": null}}},
          {"mark": {"type": "point", "opacity": 0}, "encoding": {"x": {"field": "m", "type": "quantitative", "axis": {"orient": "bottom", "values": [1, 2, 3, 4, 5, 6, 7, 8, 9, 10, 11, 12], "tickSize": -15, "labels": false, "title": null}}, "y": {"field": "m", "type": "quantitative", "scale": {"domain": [-2.2, 102.2], "nice": false, "zero": false}, "axis": {"orient": "left", "values": [10, 30, 50, 70, 90], "tickSize": -15, "labels": false, "title": null}}}},
          {"mark": {"type": "point", "opacity": 0}, "encoding": {"x": {"field": "m", "type": "quantitative", "axis": {"orient": "top", "values": [1, 4, 7, 10], "tickSize": -30, "labels": false, "title": null}}, "y": {"field": "m", "type": "quantitative", "scale": {"domain": [-2.2, 102.2], "nice": false, "zero": false}, "axis": {"orient": "right", "values": [10, 30, 50, 70, 90], "tickSize": -15, "labels": false, "title": null}}}},
          {"mark": {"type": "point", "opacity": 0}, "encoding": {"x": {"field": "m", "type": "quantitative", "axis": {"orient": "top", "values": [1, 2, 3, 4, 5, 6, 7, 8, 9, 10, 11, 12], "tickSize": -15, "labels": false, "title": null}}, "y": {"field": "m", "type": "quantitative", "scale": {"domain": [-2.2, 102.2], "nice": false, "zero": false}, "axis": null}}},
          {"mark": {"type": "line", "strokeWidth": 3, "color": "#ff44dd", "strokeDash": [8, 6]}, "encoding": {"x": {"field": "m", "type": "quantitative", "axis": null}, "y": {"field": "diff", "type": "quantitative", "scale": {"domain": [-1.1, 51.1], "nice": false, "zero": false}, "axis": {"orient": "right", "values": [0, 10, 20, 30, 40, 50], "tickSize": -30, "title": null, "labelPadding": 44}}}},
          {"data": {"values": [{"t": "0–1 km"}]}, "mark": {"type": "text", "align": "right", "baseline": "middle"}, "encoding": {"x": {"datum": 11.3, "type": "quantitative", "axis": null}, "y": {"datum": 90, "type": "quantitative", "scale": {"domain": [-2.2, 102.2], "nice": false, "zero": false}, "axis": null}, "text": {"field": "t"}}}
        ]}
      ]
    }
  ]
}
